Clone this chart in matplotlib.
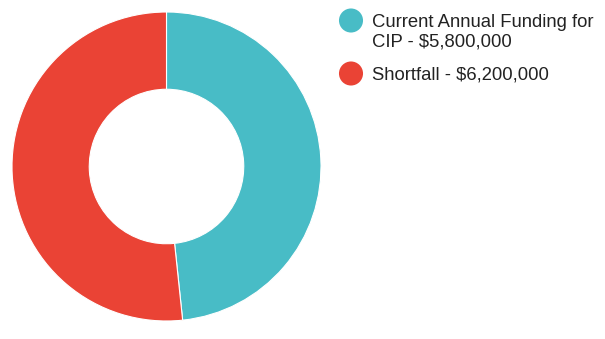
import matplotlib.pyplot as plt

labels = [["Current Annual Funding for", "CIP - $5,800,000"], ["Shortfall - $6,200,000"]]
values = [5800000, 6200000]
colors = ["#48bcc6", "#ea4335"]

W, H = 605, 339
plt.rcParams['font.family'] = ['Liberation Sans', 'DejaVu Sans']
fig = plt.figure(figsize=(W / 100, H / 100), dpi=100)

ax = fig.add_axes([12 / W, (H - 321) / H, 309 / W, 309 / H])
ax.pie(values, colors=colors, startangle=90, counterclock=False,
       radius=1, wedgeprops=dict(width=0.5, edgecolor='white', linewidth=0.8))
ax.set_xlim(-1, 1)
ax.set_ylim(-1, 1)
ax.set_aspect('equal')
ax.axis('off')

# legend drawn by hand in pixel coordinates (y from top)
leg = fig.add_axes([0, 0, 1, 1])
leg.set_xlim(0, W)
leg.set_ylim(H, 0)
leg.axis('off')
marker_y = [20.5, 73.5]
for lines, col, my in zip(labels, colors, marker_y):
    leg.scatter([351], [my], s=300, color=col, edgecolors='none')
    for i, line in enumerate(lines):
        leg.text(372, my + 6.5 + i * 19.5, line, fontsize=13.3, color='#222222',
                 va='baseline', ha='left')

fig.savefig("out.png", dpi=100)
